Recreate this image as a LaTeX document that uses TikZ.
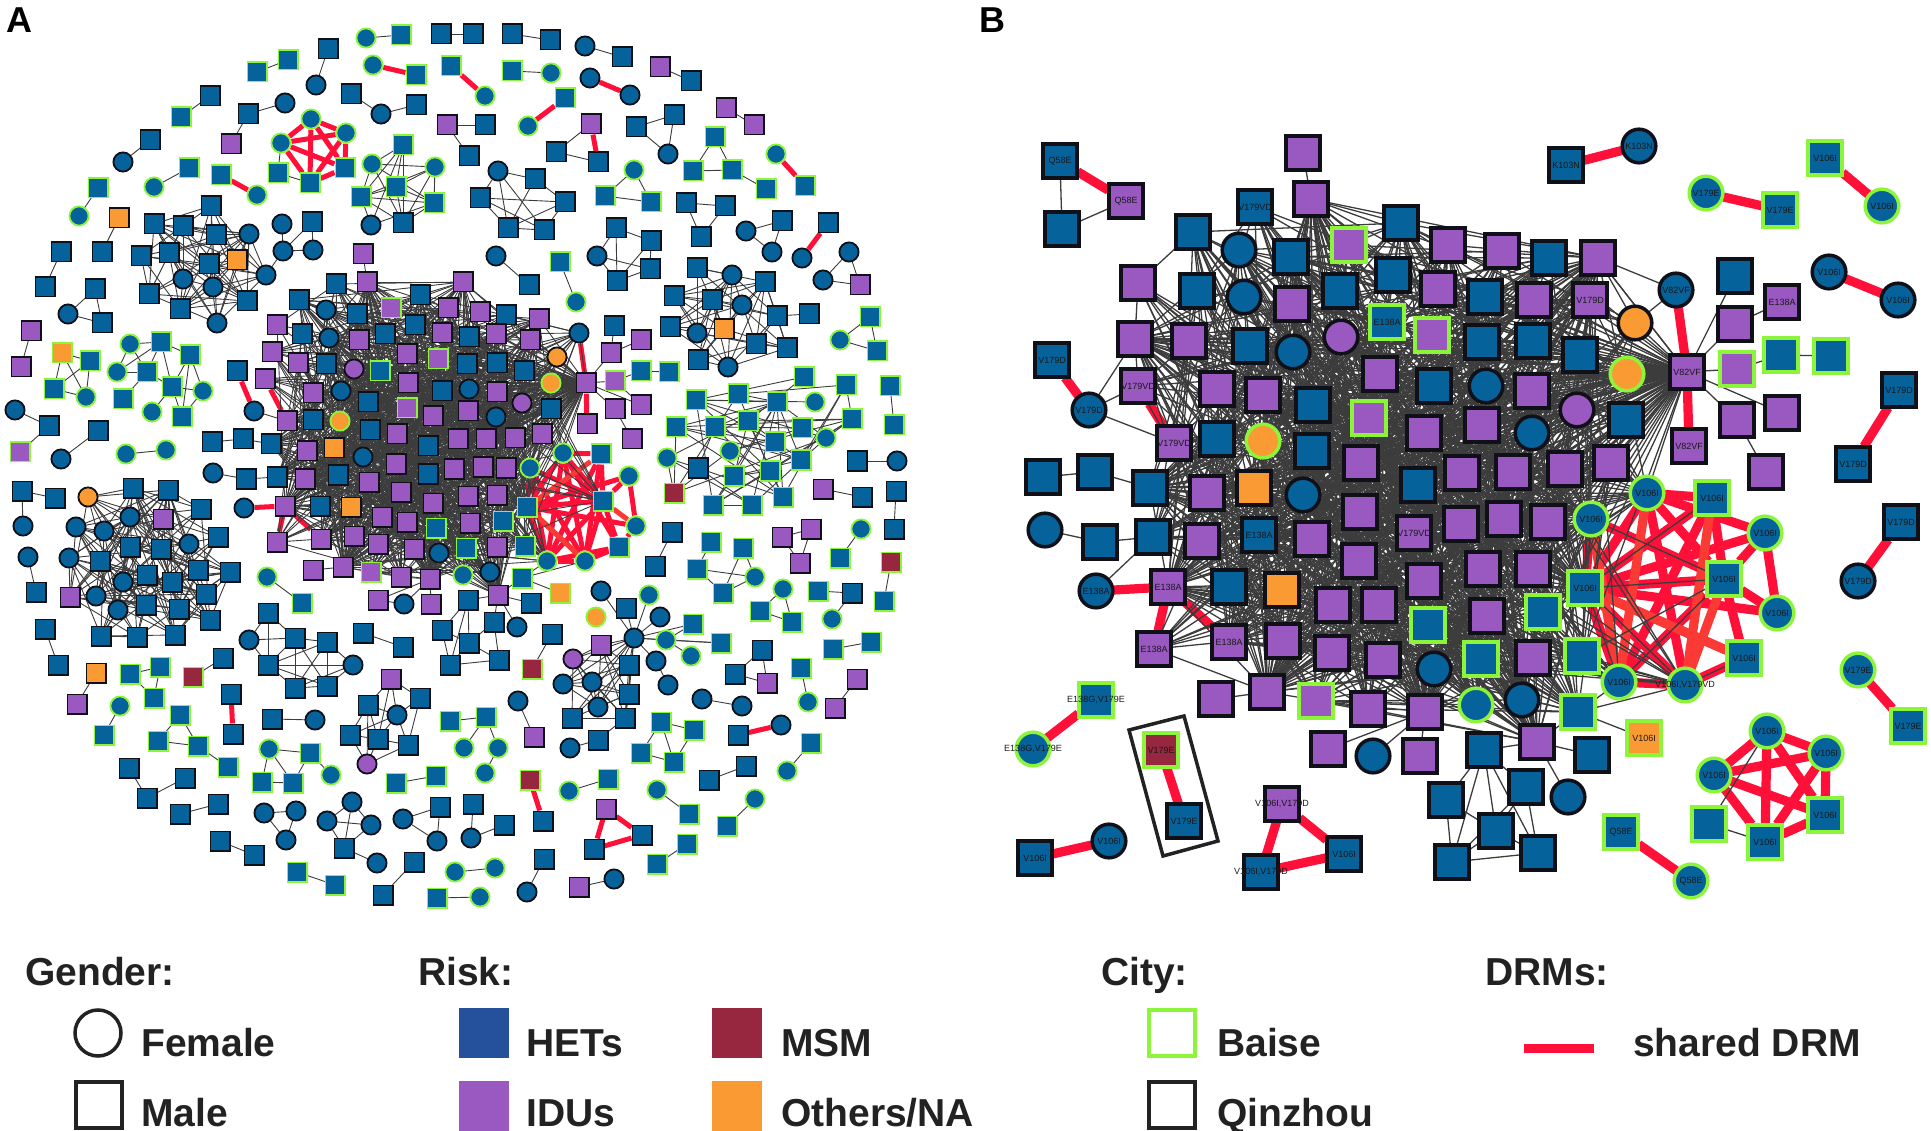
\documentclass[tikz,border=0pt]{standalone}
\usepackage{fontspec}
\setmainfont{Liberation Sans}
\pgfdeclarelayer{reds}
\pgfdeclarelayer{edges}
\pgfsetlayers{reds,edges,main}
\definecolor{hetblue}{HTML}{05629A}
\definecolor{hetswatch}{HTML}{25509C}
\definecolor{idupurple}{HTML}{9A59C0}
\definecolor{othorange}{HTML}{F99B32}
\definecolor{msmred}{HTML}{97263F}
\definecolor{baisegreen}{HTML}{8CF53A}
\definecolor{qinline}{HTML}{101018}
\definecolor{linkgray}{HTML}{3C3C3C}
\definecolor{drmred}{HTML}{FF1038}
\definecolor{drmsoft}{HTML}{FB3A35}
\definecolor{legink}{HTML}{222222}
\def\nsz{19.2pt}
\def\nlw{1.8pt}
\def\elw{0.9pt}
\def\rlw{5pt}
\tikzset{
  sqnode/.style={rectangle,draw=qinline,minimum size=\nsz,line width=\nlw,inner sep=0pt,outer sep=0pt},
  cirnode/.style={circle,draw=qinline,minimum size=\nsz,line width=\nlw,inner sep=0pt,outer sep=0pt},
  baise/.style={draw=baisegreen},
  hm/.style={sqnode,fill=hetblue}, hf/.style={cirnode,fill=hetblue},
  im/.style={sqnode,fill=idupurple}, if/.style={cirnode,fill=idupurple},
  om/.style={sqnode,fill=othorange}, of/.style={cirnode,fill=othorange},
  bhm/.style={hm,baise}, bhf/.style={hf,baise},
  bim/.style={im,baise}, bif/.style={if,baise},
  bom/.style={om,baise}, bof/.style={of,baise},
  bmm/.style={sqnode,baise,fill=msmred},
  link/.style={draw=linkgray,line width=\elw},
  drm/.style={draw=drmred,line width=\rlw,shorten <=1pt,shorten >=1pt},
  drmb/.style={draw=drmsoft,line width=\rlw,shorten <=1pt,shorten >=1pt},
  tag/.style={font=\fontsize{9}{9}\selectfont,text=black!90,inner sep=0pt},
  legtext/.style={font=\bfseries\fontsize{39}{41}\selectfont,text=legink,anchor=base west,inner sep=0pt},
  legbox/.style={rectangle,minimum size=46pt,line width=3.5pt,draw=legink,inner sep=0pt},
  legfill/.style={rectangle,minimum size=50pt,inner sep=0pt},
}
% pseudo random pick of a pair, gives 0..6
\def\pairval#1#2{(#1*#2*#2/3+5*#1*#1/7+3*#2+#1)}
\def\pairhit#1#2{\numexpr\pairval{#1}{#2}-7*((\pairval{#1}{#2}-3)/7)\relax}
\newcommand{\netnodes}[2]{\foreach[count=\i] \x/\y/\k in {#2}{\node[\k] (#1\i) at (\x,\y) {};\xdef\netsize{\i}}}
\newcommand{\netlink}[2]{\begin{pgfonlayer}{edges}\foreach \a/\b in {#2}\draw[link] (#1\a) -- (#1\b);\end{pgfonlayer}}
\newcommand{\netred}[2]{\begin{pgfonlayer}{reds}\foreach \a/\b in {#2}\draw[drm] (#1\a) -- (#1\b);\end{pgfonlayer}}
\newcommand{\netsoft}[2]{\begin{pgfonlayer}{reds}\foreach \a/\b in {#2}\draw[drmb] (#1\a) -- (#1\b);\end{pgfonlayer}}
\newcommand{\netpairs}[2]{\foreach[count=\i] \xa/\ya/\ka/\xb/\yb/\kb/\l in {#2}{
    \node[\ka] (#1\i s) at (\xa,\ya) {};
    \node[\kb] (#1\i t) at (\xb,\yb) {};
    \begin{pgfonlayer}{edges}\draw[\l] (#1\i s) -- (#1\i t);\end{pgfonlayer}}}
\newcommand{\netcore}[2]{\begin{pgfonlayer}{edges}\foreach \i in {1,...,\netsize}\foreach \j in {1,...,\netsize}{%
    \ifnum\i<\j \ifnum\pairhit{\i}{\j}<#2 \draw[link] (#1\i) -- (#1\j);\fi\fi}\end{pgfonlayer}}
\newcommand{\nethub}[4]{\begin{pgfonlayer}{edges}\foreach \i in {1,...,\coresize}{%
    \ifnum\pairhit{\i}{#4}<#3 \draw[link] (#1) -- (#2\i);\fi}\end{pgfonlayer}}
\begin{document}
\begin{tikzpicture}[x=1pt,y=-1pt]
  \useasboundingbox (0,0) rectangle (1931,1131);
  \node[font=\bfseries\fontsize{36}{36}\selectfont,anchor=base west,inner sep=0pt] (panela) at (6,33) {A};
  \node[font=\bfseries\fontsize{36}{36}\selectfont,anchor=base west,inner sep=0pt] (panelb) at (979,33) {B};
  % panel A
  \begin{scope}
    \netpairs{pa}{366/38/bhf/401/35/bhm/link,441/34/hm/473/34/hm/link,512/34/hm/550/40/hm/link,328/49/hm/316/85/hf/link,
      288/60/bhm/257/72/bhm/link,373/65/bhf/416/75/bhm/drm,451/66/bhm/485/96/bhf/drm,210/96/hm/181/117/bhm/link,
      150/140/hm/123/162/hf/link,189/168/bhm/154/187/bhf/link,221/175/bhm/257/195/bhf/drm,98/188/bhm/79/216/bhf/link,
      119/218/om/102/252/hm/link,61/252/hm/45/287/hm/link,31/331/im/21/367/im/link,126/454/bhf/166/450/bhf/link,
      98/431/hm/61/459/hf/link,585/46/hf/622/57/hm/link,660/67/im/691/81/hm/link,512/71/bhm/551/73/bhf/link,
      590/78/hf/630/95/hf/drm,565/98/bhm/528/126/bhf/drm,726/108/im/754/125/im/link,776/154/bhf/805/186/bhm/drm,
      828/223/hm/802/258/hf/drm,496/256/hf/529/285/hm/link,560/262/bhm/576/302/bhf/link,890/386/bhm/894/425/bhm/link,
      857/461/hm/897/461/hf/link,896/491/hm/894/529/hm/link,861/529/bhf/840/558/bhm/link,891/562/bmm/884/601/bhm/link,
      672/532/hm/655/566/hm/link,871/642/bhm/833/649/bhm/link,857/679/im/835/708/im/link,801/668/bhm/808/702/bhf/link,
      702/699/hf/742/706/hf/link,811/743/bhm/787/771/bhf/link,738/735/hm/781/725/hf/drm,709/780/hm/746/766/hm/link,
      755/799/bhf/727/826/bhm/link,657/790/bhf/689/814/bhm/link,687/844/bhm/657/864/bhm/link,579/887/im/614/879/hf/link,
      544/859/hm/527/892/hf/link,569/791/bhf/608/779/bhm/link,530/780/bmm/543/821/hm/drm,518/701/hf/534/737/im/link,
      552/634/hm/532/669/bmm/link,823/489/im/862/497/hm/link,45/629/hm/58/665/hm/link,96/673/om/77/704/im/link,
      120/706/bhf/104/735/bhm/link,193/677/bmm/223/658/hm/link,231/694/hm/233/734/hm/drm,272/719/hm/315/720/hf/link,
      267/577/bhf/302/603/bhm/link,363/633/hm/403/647/hm/link,396/783/bhm/436/776/bhm/link,218/804/hm/180/814/hm/link,
      220/841/hm/254/855/hm/link,297/872/bhm/335/885/bhm/link,414/862/hm/383/895/hm/link,455/872/bhf/495/868/bhf/link,
      437/898/bhm/480/897/bhf/link,28/557/hf/36/592/hm/link,15/410/hf/49/426/hm/link,598/740/hm/570/748/hf/link}
    \node[bof] (orphan) at (596,617) {};
    \node[bim] (edgea) at (20,452) {};
    \node[hm] (ceend) at (809,314) {};
    \netlink{}{pa67t/edgea}
    % small groups
    \netnodes{ga}{248/114/hm,285/103/hf,231/144/im}\netlink{ga}{1/2,1/3}
    \netnodes{gb}{351/94/hm,381/114/hf,416/105/hm}\netlink{gb}{1/2,2/3}
    \netnodes{gc}{447/125/im,485/125/hm,469/156/hm}\netlink{gc}{1/2,1/3}
    \netnodes{gd}{282/224/hf,312/222/hm,283/251/hf,313/250/hf}\netlink{gd}{1/3,3/2,2/4,3/4}
    \netnodes{ge}{95/289/hm,68/314/hf,102/323/hm}\netlink{ge}{1/2,1/3,2/3}
    \netnodes{gf}{62/353/bom,90/361/bhm,54/389/bhm,86/397/bhf}\netlink{gf}{1/2,1/3,1/4,2/3,2/4,3/4}
    \netnodes{gg}{130/344/bhf,161/342/bhm,190/355/bhm,117/372/bhf,147/372/bhm,172/387/bhm,203/391/bhf,123/399/bhm,152/412/bhf,182/417/bhm}
    \netlink{gg}{1/2,2/3,1/4,2/4,1/5,2/5,2/6,3/6,3/7,3/10,4/5,5/6,6/7,6/9,6/10,5/8,7/10}
    \netnodes{gh}{22/491/hm,55/498/hm,23/526/hf}\netlink{gh}{1/2,1/3}
    \netnodes{gi}{636/127/hm,674/115/hm,668/154/hf}\netlink{gi}{1/2,1/3,2/3}
    \netnodes{gj}{591/124/im,556/152/hm,598/162/hm}\netlink{gj}{1/2,2/3}\netred{gj}{1/3}
    \netnodes{gk}{715/137/bhm,693/171/bhm,732/170/bhm,766/189/bhm}\netlink{gk}{1/2,1/3,2/3,3/4}
    \netnodes{gl}{634/170/bhf,605/196/bhm,651/202/bhm}\netlink{gl}{1/2,1/3,2/3}
    \netnodes{gm}{686/203/hm,725/206/hm,701/237/hm}\netlink{gm}{1/2,1/3,2/3}
    \netnodes{gn}{782/221/hm,746/231/hf,772/252/hf}\netlink{gn}{1/2,1/3,2/3}
    \netnodes{go}{849/252/hf,823/280/hf,860/285/im}\netlink{go}{1/2,1/3,2/3}
    \netnodes{gp}{870/317/bhm,840/340/bhf,877/351/bhm}\netlink{gp}{1/2,1/3,2/3}
    \netnodes{gq}{782/537/im,811/529/im,800/563/im}\netlink{gq}{1/2,1/3,2/3}
    \netnodes{gr}{818/591/bhm,852/593/hm,832/619/bhf}\netlink{gr}{1/2,2/3}
    \netnodes{gs}{783/589/bhf,760/611/bhm,792/622/bhm}\netlink{gs}{1/2,1/3,2/3}
    \netnodes{gt}{762/650/hm,735/674/hm,767/683/im}\netlink{gt}{1/2,1/3,2/3}
    \netnodes{gu}{661/722/bhm,694/730/bhm,641/753/bhm,674/762/bhm}\netlink{gu}{1/2,1/3,1/4,3/4,2/4}
    \netnodes{gv}{711/542/bhm,743/548/bhm,697/569/bhm,755/577/bhf,723/593/bhm}\netlink{gv}{1/3,2/4,2/5,3/4,3/5,4/5}
    \netnodes{gw}{606/809/im,594/849/hm,642/835/hm}\netred{gw}{1/2,1/3,2/3}
    \netnodes{gx}{130/674/bhm,160/667/bhm,154/698/bhm}\netlink{gx}{1/2,1/3,2/3}
    \netnodes{gy}{180/715/bhm,158/741/bhm,198/746/bhm,228/767/bhm}\netlink{gy}{1/2,1/3,2/3,3/4}
    \netnodes{gz}{486/717/bhm,498/748/bhf,485/773/bhf,450/721/bhm,464/748/bhf}\netlink{gz}{4/1,1/2,2/3,1/5}
    \netnodes{ha}{269/749/bhf,310/753/bhm,262/782/bhm,293/783/bhm,331/775/bhf}\netlink{ha}{1/2,1/3,1/4,2/4,3/4,2/5}
    \netnodes{hb}{129/768/hm,147/798/hm,185/778/hm}\netlink{hb}{1/2,2/3}
    \netnodes{hc}{264/813/hf,296/811/hf,286/840/hf}\netlink{hc}{1/2,1/3,2/3}
    \netnodes{hd}{352/802/hf,327/821/hf,371/825/hf,344/848/hm,377/863/hf}\netlink{hd}{1/2,1/3,1/4,2/3,2/4,3/4,4/5}
    \netnodes{he}{403/819/hf,440/807/hm,437/841/hf,473/804/hm,471/838/hf,504/825/hm}\netlink{he}{1/2,1/3,2/3,4/5,5/6}
    \netnodes{hg}{268/613/hm,249/640/hf,295/638/hm,327/642/hm,268/665/hm,353/665/hf,295/688/hm,327/686/hm}
    \netlink{hg}{1/2,1/3,1/5,2/3,2/5,3/5,3/4,3/7,3/8,4/8,4/6,4/5,4/7,5/6,5/7,5/8,7/8,8/6,7/6}
    \netnodes{hi}{391/679/im,368/705/hm,420/698/hm,397/715/hf,350/735/hm,378/739/hm,408/745/hm,367/764/if}
    \netlink{hi}{1/2,1/3,1/4,1/6,2/4,2/5,2/6,2/8,3/4,3/7,4/5,4/6,4/7,5/6,5/8,6/7,6/8,7/8}
    \netnodes{hj}{468/600/hm,442/630/hm,469/643/hm,450/665/hm,499/660/hm}\netlink{hj}{1/2,1/3,1/4,2/3,2/4,3/4,5/3,4/5}
    % denser groups
    \netnodes{ca}{211/206/hm,154/224/hm,183/226/hm,216/235/hm,249/234/hf,141/256/hm,169/253/hm,209/264/hm,237/260/om,266/275/hf,183/279/hf,213/287/hf,149/294/hm,247/301/hm,180/309/hm,217/323/hf}\netcore{ca}{4}
    \netnodes{cb}{372/164/bhf,403/145/bhm,435/167/bhf,396/187/bhm,361/197/bhm,434/203/bhm,403/223/hm,371/225/hf}\netcore{cb}{5}
    \netnodes{cc}{498/171/hf,535/179/hm,480/198/hm,565/202/hm,508/228/hm,544/230/hm}\netcore{cc}{5}
    \netnodes{cd}{616/228/hm,651/241/hm,597/256/hf,650/269/hm,617/281/hm}\netcore{cd}{5}
    \netnodes{ce}{697/268/hm,732/275/hf,765/282/hm,674/296/hm,712/300/hm,742/305/hf,777/316/hm,670/327/hm,697/333/hf,724/329/om,756/344/hm,787/348/hm,698/360/hm,728/367/hf}\netcore{ce}{4}
    \netnodes{cf}{88/497/of,133/488/hm,168/490/hm,201/509/hm,130/517/hf,163/519/im,76/527/hf,104/531/hf,218/537/hm,130/547/hm,161/549/hm,189/544/hf,69/558/hf,100/561/hm,230/572/hm,198/570/hm,147/575/hm,172/582/hm,123/582/hf,206/594/hm,70/597/im,96/596/hf,118/610/hf,146/605/hm,179/609/hm,210/620/hm,101/636/hm,137/637/hm,175/635/hm}\netcore{cf}{3}
    \netnodes{cg}{804/377/bhm,846/385/bhm,696/400/bhm,738/394/bhm,777/402/bhm,815/402/bhf,676/427/bhm,715/427/bhm,748/421/bhm,802/428/bhm,852/419/bhm,775/442/bhm,826/438/bhf,667/458/bhf,730/451/bhf,801/460/bhm,698/468/hm,734/476/bhm,770/471/bhm,713/505/bhm,674/493/bmm,752/505/bhm,783/497/bhm}\netcore{cg}{2}
    \netnodes{ch}{601/645/im,573/659/if,563/684/hf,592/682/hf,629/665/hm,629/694/hm,598/707/hf,572/718/hm,625/718/hm}\netcore{ch}{5}
    \netnodes{ci}{634/638/hf,601/591/hf,626/608/hm,649/595/bhf,660/617/hf,693/624/bhm,721/643/bhm,666/640/bhf,691/656/bhf,656/661/hf,668/685/hf}
    \netlink{ci}{1/2,1/3,1/4,1/5,1/6,1/7,1/8,8/6,8/7,8/9,1/10,10/11}
    \netlink{}{ci1/ch1,ci1/ch2,ci1/ch3,ci1/ch4,ci1/ch5,ci1/ch6,ci1/ch7,ci1/ch8,ci1/ch9,ch9/pa68s,gd3/ca10,ce7/ceend}
    % the big cluster
    \netnodes{ac}{336/284/hm,420/295/hm,463/282/im,326/310/hf,357/314/hm,391/308/bim,448/308/im,480/312/im,277/325/im,302/334/hm,329/338/hf,359/340/im,385/334/hm,415/325/hm,442/333/im,469/337/hm,506/315/hm,539/319/im,496/334/im,530/340/im,298/363/im,326/364/hm,354/369/if,380/371/bhm,407/354/im,438/359/bim,467/364/hm,497/363/hm,524/371/hm,551/383/bof,313/393/im,341/391/hf,368/402/hm,408/383/im,442/391/hm,469/389/hf,497/392/im,522/403/if,551/409/hm,313/420/hm,340/421/bof,370/430/hm,407/408/bim,433/416/im,468/411/im,496/417/hf,307/451/im,334/448/om,363/457/hf,397/434/im,396/464/im,428/446/hm,458/439/im,486/439/im,515/438/im,542/434/im,338/475/hm,369/482/im,428/474/hm,454/469/im,483/467/im,506/468/im,320/506/hm,351/507/om,401/492/im,433/503/im,468/496/im,497/495/im,382/517/im,407/522/im,436/528/bhm,470/523/im,503/521/bhm,354/536/im,378/544/im,414/549/im,439/553/hf,466/548/bhm,497/547/im,525/546/bhm,371/572/bim,401/577/im,463/575/bhf,490/572/hf}
    \edef\coresize{\netsize}\netcore{ac}{1}
    \netnodes{as}{586/383/im,285/506/im,343/567/im,430/579/im,498/595/im,299/300/hm,367/282/im,321/539/im,277/542/im,271/444/hm,272/352/im,305/479/im,277/477/hm,287/421/im,265/379/im,579/333/hf,557/357/of}
    \foreach \h/\t[count=\s] in {as1/7,as2/3,as3/4,as4/4,as5/3,as6/2,as7/3,as8/2,as9/1,as10/2,as11/1,as12/2,as13/2,as14/2,as15/1,as16/1,as17/1}{\nethub{\h}{ac}{\t}{\s}}
    \netnodes{ap}{363/254/im,237/371/hm,254/411/hf,212/442/hm,243/439/hm,213/473/hf,246/479/hm,244/508/hf,313/570/im,378/600/im,404/604/hf,431/604/im,614/326/hm,641/340/im,611/353/im,615/381/bim,641/371/bhm,669/372/bhm,641/405/im,615/409/im,587/424/im,632/439/im,531/603/hm,494/622/hm,517/627/hf,560/593/bom,522/578/bhm}
    \netlink{}{ap1/as7,ap3/as14,ap4/ap5,ap5/as10,ap6/ap7,ap7/as13,ap9/as3,ap10/ap11,ap10/as4,ap11/as4,ap12/as4,ap13/ap15,ap14/ap15,ap15/as1,ap16/as1,ap16/ap17,ap17/ap18,ap19/as1,ap20/as1,ap20/ap22,ap23/as5,ap24/as5,ap25/as5,ap26/ap27,ap27/as5,ap24/hj5,ap24/hj3,hj1/as5,as9/as8,as1/as16,as1/as17,as16/as17,ap19/ap16}
    \netred{}{ap2/ap3,as15/as14,ap8/as2,as2/as9,as2/as8,ap21/as1,as16/as1}
    \begin{pgfonlayer}{edges}
      \fill[linkgray] (as1.center) -- (ac30.north east) -- (ac30.south east) -- cycle;
    \end{pgfonlayer}
    \netnodes{ra}{530/468/bhf,563/453/bhf,601/454/bhm,629/476/bhf,603/501/bhm,636/526/bhf,619/547/bhm,585/561/bhf,547/561/bhf,527/507/bhm}
    \netred{ra}{1/10,1/9,1/5,2/3,2/5,2/9,2/8,2/10,3/5,3/8,3/9,4/5,4/6,4/10,5/7,5/8,5/9,5/10,6/7,7/8,7/9,8/9,9/10,8/10,6/10,1/8,2/7}
    \netsoft{ra}{3/10,5/6,8/10}
    \foreach \h/\t[count=\s from 21] in {ra1/2,ra2/1,ra5/1,ra9/2,ra10/2}{\nethub{\h}{ac}{\t}{\s}}
    \netlink{}{ap27/ra8,ap27/ra9,ra2/as1,ra1/as1,ra10/as1}
    \netnodes{rp}{311/119/bhf,346/133/bhf,281/143/bhf,345/168/bhm,310/183/bhm,278/173/bhm}
    \netred{rp}{1/2,1/3,1/4,1/5,2/3,2/4,2/5,3/4,3/5,4/5}
    \netlink{rp}{6/5,6/3}
  \end{scope}
  % panel B
  \begin{scope}
    \def\nsz{33.6pt}\def\nlw{3.5pt}\def\elw{1.3pt}\def\rlw{9.2pt}
    \netpairs{pb}{1566/165/hm/1639/146/hf/drm,1706/193/bhf/1780/210/bhm/drm,1825/158/bhm/1882/206/bhf/drm,1829/272/hf/1898/300/hf/drm,
      1899/390/hm/1853/464/hm/drm,1901/522/hm/1858/581/hf/drm,1858/670/bhf/1908/726/bhm/drm,1621/832/bhm/1691/881/bhf/drm,
      1096/700/bhm/1033/749/bhf/drm,1161/750/bmm/1184/821/hm/drm,1035/858/hm/1109/841/hf/drm}
    \netnodes{bq}{1060/161/hm,1126/201/im,1062/229/hm}\netlink{bq}{1/3,2/3}\netred{bq}{1/2}
    \netnodes{bt}{1282/804/im,1261/872/hm,1344/854/hm}\netred{bt}{1/2,1/3,2/3}
    \draw[line width=3.5pt,draw=legink] (1129,730) -- (1184,716) -- (1218,841) -- (1163,856) -- cycle;
    \netnodes{bc}{1255/207/hm,1239/250/hf,1291/257/hm,1349/245/bim,1401/223/hm,1393/275/hm,1448/245/im,1438/289/im,1197/291/hm,1244/297/hf,1292/304/im,1340/291/hm,1387/322/bhm,1432/335/bim,1189/341/im,1250/346/hm,1293/352/hf,1341/337/if,1380/374/im,1434/386/hm,1217/389/im,1263/395/im,1313/405/hm,1369/418/bim,1424/433/im,1217/439/hm,1263/441/bof,1312/451/hm,1361/463/im,1418/485/hm,1462/473/im,1207/493/im,1254/488/om,1303/495/hf,1360/512/im,1414/533/im,1461/524/im,1202/541/im,1259/535/hm,1312/539/im,1359/561/im,1229/587/hm,1282/590/om,1333/605/im,1379/605/im,1424/581/im,1428/625/bhm,1283/641/im,1332/653/im,1383/660/im,1434/669/hf,1316/701/bim,1368/709/im,1502/251/im,1549/258/hm,1598/258/im,1485/297/hm,1534/300/im,1590/300/im,1482/342/hm,1533/341/hm,1580/355/hm,1486/386/hf,1532/391/im,1577/410/if,1626/420/hm,1482/425/im,1532/433/hf,1513/472/im,1565/469/im,1611/463/im,1504/519/im,1548/522/im,1483/569/im,1533/569/im,1543/612/bhm,1487/616/im,1481/659/bhm,1533/658/im,1582/656/bhm}
    \edef\coresize{\netsize}\netcore{bc}{1}
    \netnodes{bs}{1687/372/im,1537/742/im,1267/692/im,1168/587/im,1135/339/im,1138/386/im,1174/443/im,1150/488/hm,1153/537/hm,1154/649/im,1229/642/im,1425/712/im,1311/199/im,1193/232/hm,1138/283/im,1578/712/bhm,1522/700/hf,1476/705/bhf,1635/323/of,1627/374/bof,1598/258/im}
    \foreach \h/\t[count=\s] in {bs1/7,bs2/3,bs3/4,bs4/3,bs5/3,bs6/1,bs7/2,bs8/3,bs9/2,bs10/1,bs11/2,bs12/4,bs13/3,bs14/2,bs15/1,bs16/2,bs17/3,bs18/3,bs19/1,bs20/2,bs21/2}{\nethub{\h}{bc}{\t}{\s}}
    \netnodes{bp}{1303/153/im,1052/360/hm,1089/410/hf,1043/477/hm,1095/472/hm,1045/530/hf,1100/542/hm,1096/591/hf,1216/699/im,1328/749/im,1373/756/hf,1420/756/im,1644/738/bom,1592/755/hm,1568/797/hf,1676/290/hf,1689/446/im,1735/276/hm,1735/324/im,1782/302/im,1737/369/bim,1781/355/bhm,1831/356/bhm,1737/420/im,1782/413/im,1766/472/im}
    \netnodes{bl}{1446/800/hm,1484/750/hm,1526/787/hm,1496/831/hm,1452/862/hm,1538/853/hm}
    \netlink{bl}{1/4,1/5,2/3,2/4,2/5,2/6,3/4,3/5,3/6,4/5,4/6,5/6,2/1}
    \netlink{}{bp1/bs13,bp3/bs5,bp3/bs6,bp3/bs7,bp4/bp5,bp5/bs8,bp6/bp7,bp7/bs9,bp8/bs9,bs10/bs3,bs4/bs3,bs4/bs8,bs6/bs5,bs5/bs15,bs15/bs14,bp9/bs3,bp10/bs12,bp11/bs12,bp12/bs12,bp13/bs16,bs16/bs2,bp14/bs2,bp15/bs2,bl2/bs2,bp16/bs21,bp16/bs19,bs1/bp18,bs1/bp19,bp19/bp20,bs1/bp21,bp21/bp22,bp22/bp23,bs1/bp24,bs1/bp25,bp24/bp26,bs21/bs19,bs1/bs19,bs1/bs20,bs19/bs20,bs1/bs21}
    \netred{}{bp2/bp3,bp8/bs4,bs4/bs10,bs4/bs11,bs6/bs7,bp16/bs1,bs1/bp17}
    \begin{pgfonlayer}{edges}
      \fill[linkgray] (bs1.center) -- (bs20.north east) -- (bs20.south east) -- cycle;
    \end{pgfonlayer}
    \netnodes{rb}{1647/493/bhf,1712/498/bhm,1591/519/bhf,1765/533/bhf,1724/579/bhm,1585/588/bhm,1777/613/bhf,1744/658/bhm,1619/682/bhf,1685/685/bhf}
    \netred{rb}{1/2,1/4,1/5,1/6,2/5,2/6,2/9,3/6,3/5,4/5,4/6,4/7,5/6,5/7,5/8,5/9,6/7,6/8,6/9,6/10,8/10,9/10,1/10}
    \netsoft{rb}{1/9,2/10,5/10,3/9,6/8}
    \foreach \h/\t[count=\s from 31] in {rb1/2,rb3/3,rb6/3,rb9/1,rb10/1}{\nethub{\h}{bc}{\t}{\s}}
    \netlink{}{rb5/rb6,rb5/rb9,rb5/rb3,rb5/bc80,rb2/rb6,rb10/bs16,rb10/bc80,rb9/bs16,rb6/rb10,rb8/rb10,bs1/rb1,bs1/rb3,bs1/rb6}
    \netnodes{rc}{1767/731/bhf,1826/753/bhf,1714/775/bhf,1825/815/bhm,1765/842/bhm,1709/824/bhm}
    \netred{rc}{1/2,1/3,1/4,1/5,2/3,2/4,2/5,3/4,3/5,4/5}
    \netlink{rc}{6/5,6/1}
    \foreach \x/\y/\t[count=\i] in {1060/161/Q58E,1126/201/Q58E,1566/165/K103N,1639/146/K103N,1706/193/V179E,1780/210/V179E,1825/158/V106I,1882/206/V106I,1829/272/V106I,1898/300/V106I,1255/207/V179VD,1387/322/E138A,1590/300/V179D,1676/290/V82VF,1687/372/V82VF,1689/446/V82VF,1782/302/E138A,1052/360/V179D,1089/410/V179D,1138/386/V179VD,1174/443/V179VD,1259/535/E138A,1414/533/V179VD,1096/591/E138A,1168/587/E138A,1154/649/E138A,1229/642/E138A,1096/700/{E138G,V179E},1033/749/{E138G,V179E},1161/750/V179E,1184/821/V179E,1282/804/{V106I,V179D},1261/872/{V106I,V179D},1344/854/V106I,1035/858/V106I,1109/841/V106I,1899/390/V179D,1853/464/V179D,1647/493/V106I,1712/498/V106I,1591/519/V106I,1765/533/V106I,1724/579/V106I,1585/588/V106I,1777/613/V106I,1744/658/V106I,1619/682/V106I,1685/685/{V106I,V179VD},1644/738/V106I,1621/832/Q58E,1691/881/Q58E,1767/731/V106I,1826/753/V106I,1714/775/V106I,1825/815/V106I,1765/842/V106I,1901/522/V179D,1858/581/V179D,1858/670/V179E,1908/726/V179E}
      \node[tag] (lab\i) at (\x,\y) {\t};
  \end{scope}
  % legend
  \node[legtext] (gender) at (25,985) {Gender:};
  \node[cirnode,draw=legink,minimum size=46pt,line width=3.5pt] (lfemale) at (98,1033) {};
  \node[legtext] (tfemale) at (141,1056) {Female};
  \node[legbox] (lmale) at (99,1105) {};
  \node[legtext] (tmale) at (141,1126) {Male};
  \node[legtext] (risk) at (418,985) {Risk:};
  \node[legfill,fill=hetswatch] (lhet) at (484,1033) {};
  \node[legtext] (thet) at (526,1056) {HETs};
  \node[legfill,fill=idupurple] (lidu) at (484,1106) {};
  \node[legtext] (tidu) at (526,1126) {IDUs};
  \node[legfill,fill=msmred] (lmsm) at (737,1033) {};
  \node[legtext] (tmsm) at (781,1056) {MSM};
  \node[legfill,fill=othorange] (loth) at (737,1106) {};
  \node[legtext] (toth) at (781,1126) {Others/NA};
  \node[legtext] (city) at (1101,985) {City:};
  \node[legbox,draw=baisegreen,line width=4pt] (lbaise) at (1172,1033) {};
  \node[legtext] (tbaise) at (1217,1056) {Baise};
  \node[legbox] (lqin) at (1172,1105) {};
  \node[legtext] (tqin) at (1217,1126) {Qinzhou};
  \node[legtext] (drms) at (1485,985) {DRMs:};
  \coordinate (drma) at (1524,1048);
  \coordinate (drmz) at (1594,1048);
  \draw[draw=drmred,line width=9pt] (drma) -- (drmz);
  \node[legtext] (tdrm) at (1633,1056) {shared DRM};
\end{tikzpicture}
\end{document}
